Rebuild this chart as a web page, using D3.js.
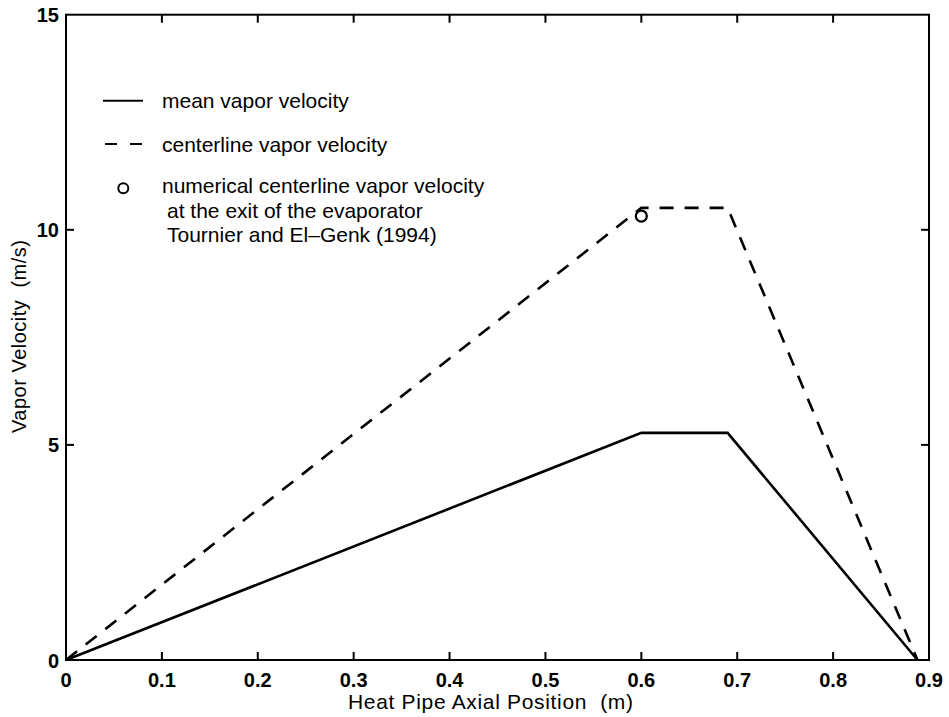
<!DOCTYPE html>
<html>
<head>
<meta charset="utf-8">
<script src="https://cdn.jsdelivr.net/npm/d3@7"></script>
<style>
  html, body { margin: 0; padding: 0; background: #fff; }
  svg { display: block; font-family: "Liberation Sans", Arial, Helvetica, sans-serif; }
  .tick-label { font-weight: bold; font-size: 20px; fill: #000; }
  .axis-title { font-size: 21px; fill: #000; }
  .legend-text { font-size: 21px; fill: #000; }
</style>
</head>
<body>
<svg id="chart" width="949" height="717"></svg>
<script>
// Axial position (m) and velocity (m/s) of the vapor along the heat pipe
const meanX = [0, 0.6, 0.69, 0.888];
const meanV = [0, 5.28, 5.28, 0];
const centerX = [0, 0.6, 0.69, 0.888];
const centerV = [0, 10.51, 10.51, 0];
const numericalX = [0.6];
const numericalV = [10.32];

const xTicks = [0, 0.1, 0.2, 0.3, 0.4, 0.5, 0.6, 0.7, 0.8, 0.9];
const yTicks = [0, 5, 10, 15];
const xTickLabels = ["0", "0.1", "0.2", "0.3", "0.4", "0.5", "0.6", "0.7", "0.8", "0.9"];
const yTickLabels = ["0", "5", "10", "15"];

const legendLabels = [
  "mean vapor velocity",
  "centerline vapor velocity",
  "numerical centerline vapor velocity"
];
const legendExtra = ["at the exit of the evaporator", "Tournier and El\u2013Genk (1994)"];

const svg = d3.select("#chart");
const plotL = 66, plotR = 929, plotT = 14.7, plotB = 660;

const x = d3.scaleLinear().domain([0, 0.9]).range([plotL, plotR]);
const y = d3.scaleLinear().domain([0, 15]).range([plotB, plotT]);

const tickLen = 8;

// frame
svg.append("rect")
  .attr("x", plotL).attr("y", plotT)
  .attr("width", plotR - plotL).attr("height", plotB - plotT)
  .attr("fill", "none").attr("stroke", "#000").attr("stroke-width", 2);

// inward ticks on all four sides
const gt = svg.append("g");
xTicks.forEach((t, i) => {
  if (i === 0 || i === xTicks.length - 1) return;
  gt.append("line").attr("x1", x(t)).attr("x2", x(t))
    .attr("y1", plotB).attr("y2", plotB - tickLen)
    .attr("stroke", "#000").attr("stroke-width", 2);
  gt.append("line").attr("x1", x(t)).attr("x2", x(t))
    .attr("y1", plotT).attr("y2", plotT + tickLen)
    .attr("stroke", "#000").attr("stroke-width", 2);
});
yTicks.forEach((t, i) => {
  if (i === 0 || i === yTicks.length - 1) return;
  gt.append("line").attr("x1", plotL).attr("x2", plotL + tickLen)
    .attr("y1", y(t)).attr("y2", y(t))
    .attr("stroke", "#000").attr("stroke-width", 2);
  gt.append("line").attr("x1", plotR).attr("x2", plotR - tickLen)
    .attr("y1", y(t)).attr("y2", y(t))
    .attr("stroke", "#000").attr("stroke-width", 2);
});

// tick labels
svg.append("g").selectAll("text").data(xTicks).join("text")
  .attr("class", "tick-label")
  .attr("x", d => x(d)).attr("y", 687)
  .attr("text-anchor", "middle")
  .text((d, i) => xTickLabels[i]);

svg.append("g").selectAll("text").data(yTicks).join("text")
  .attr("class", "tick-label")
  .attr("x", plotL - 7).attr("y", d => y(d) + 7.5)
  .attr("text-anchor", "end")
  .text((d, i) => yTickLabels[i]);

// axis titles
svg.append("text").attr("class", "axis-title")
  .attr("x", 490.5).attr("y", 709).attr("text-anchor", "middle")
  .attr("textLength", 285).attr("lengthAdjust", "spacing")
  .attr("xml:space", "preserve")
  .text("Heat Pipe Axial Position  (m)");

svg.append("text").attr("class", "axis-title")
  .style("font-size", "20px")
  .attr("transform", "translate(26,336.5) rotate(-90)")
  .attr("x", -96.5)
  .attr("textLength", 193).attr("lengthAdjust", "spacing")
  .attr("xml:space", "preserve")
  .text("Vapor Velocity  (m/s)");

// curves
const line = d3.line().x(d => x(d[0])).y(d => y(d[1]));

svg.append("path")
  .datum(meanX.map((v, i) => [v, meanV[i]]))
  .attr("d", line)
  .attr("fill", "none").attr("stroke", "#000").attr("stroke-width", 2.6)
  .attr("stroke-linejoin", "miter");

svg.append("path")
  .datum(centerX.map((v, i) => [v, centerV[i]]))
  .attr("d", line)
  .attr("fill", "none").attr("stroke", "#000").attr("stroke-width", 2.6)
  .attr("stroke-dasharray", "14 11");

svg.append("g").selectAll("circle").data(numericalX).join("circle")
  .attr("cx", d => x(d)).attr("cy", (d, i) => y(numericalV[i]))
  .attr("r", 5.5)
  .attr("fill", "none").attr("stroke", "#000").attr("stroke-width", 2.2);

// legend
const lg = svg.append("g");
lg.append("line").attr("x1", 103).attr("x2", 143).attr("y1", 100.7).attr("y2", 100.7)
  .attr("stroke", "#000").attr("stroke-width", 2);
lg.append("line").attr("x1", 105).attr("x2", 142).attr("y1", 144).attr("y2", 144)
  .attr("stroke", "#000").attr("stroke-width", 2).attr("stroke-dasharray", "12 13");
lg.append("circle").attr("cx", 123.3).attr("cy", 188.3).attr("r", 5)
  .attr("fill", "none").attr("stroke", "#000").attr("stroke-width", 2);

const legendY = [108.3, 151.7, 193.3];
legendLabels.forEach((t, i) => {
  lg.append("text").attr("class", "legend-text")
    .attr("x", 162).attr("y", legendY[i]).text(t);
});
const extraY = [218.3, 241.7];
legendExtra.forEach((t, i) => {
  lg.append("text").attr("class", "legend-text")
    .attr("x", 167).attr("y", extraY[i]).text(t);
});
</script>
</body>
</html>
